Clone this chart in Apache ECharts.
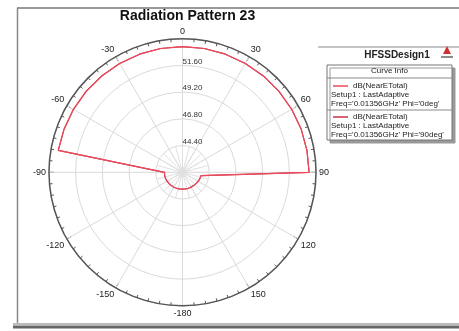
<!DOCTYPE html>
<html>
<head>
<meta charset="utf-8">
<script src="https://cdn.jsdelivr.net/npm/echarts@6/dist/echarts.min.js"></script>
<style>
html,body{margin:0;padding:0;background:#fff;}
#chart{width:459px;height:331px;}
</style>
</head>
<body>
<div id="chart"></div>
<script>
// ---- data ----
const thetaDeg = [-180,-170,-160,-150,-140,-130,-120,-110,-100,-90,-80,-70,-60,-50,-40,-30,-20,-10,0,10,20,30,40,50,60,70,80,90,100,110,120,130,140,150,160,170,180];
const phi0dB = [43.52,43.52,43.53,43.55,43.56,43.58,43.6,43.62,43.63,43.62,53.34,53.33,53.32,53.31,53.3,53.3,53.3,53.3,53.3,53.3,53.3,53.3,53.31,53.32,53.33,53.35,53.36,53.38,43.7,43.66,43.62,43.58,43.56,43.54,43.53,43.52,43.52];
const phi90dB = [43.52,43.52,43.53,43.55,43.56,43.58,43.6,43.62,43.63,43.62,53.34,53.33,53.32,53.31,53.3,53.3,53.3,53.3,53.3,53.3,53.3,53.3,53.31,53.32,53.33,53.35,53.36,53.38,43.7,43.66,43.62,43.58,43.56,43.54,43.53,43.52,43.52];
const seriesNames = ["dB(NearETotal) Phi='0deg'", "dB(NearETotal) Phi='90deg'"];
const rMinDB = 42.0, rMaxDB = 54.0, rStepDB = 2.4;
const titleText = 'Radiation Pattern 23';
const designName = 'HFSSDesign1';
const legendHeader = 'Curve Info';
const legendLines = [
  ['dB(NearETotal)', 'Setup1 : LastAdaptive', "Freq='0.01356GHz' Phi='0deg'"],
  ['dB(NearETotal)', 'Setup1 : LastAdaptive', "Freq='0.01356GHz' Phi='90deg'"]
];
const colors = ['#ec4a5a', '#c8304a'];

// ---- layout ----
const CX = 182.5, CY = 172.3, R = 133.5;
const FONT = 'Liberation Sans, Arial, sans-serif';

function toPts(vals){
  return vals.map((v,i)=>{
    const t = thetaDeg[i];
    return [v - rMinDB, t < 0 ? t + 360 : t];
  });
}
function angLabel(v){
  if (v === 180) return '-180';
  if (v > 180) return String(v - 360);
  return String(v);
}

const chart = echarts.init(document.getElementById('chart'), null, {renderer:'canvas'});

const LX = 327, LY = 65, LW = 125, LH = 75;
const txt = (x,y,t,extra)=>Object.assign({type:'text', x:x, y:y, style:Object.assign({text:t, fontSize:8, fontFamily:FONT, fill:'#222', textVerticalAlign:'middle'}, extra||{})});
const ln = (x1,y1,x2,y2,stroke,w)=>({type:'line', shape:{x1:x1,y1:y1,x2:x2,y2:y2}, style:{stroke:stroke, lineWidth:w}});

const graphics = [
  ln(17,8,459,8,'#999',2),
  ln(17.5,8,17.5,324,'#888',1.5),
  ln(13,324,459,324,'#bbb',2),
  ln(13,327,459,327,'#666',3),
  ln(318,47,459,47,'#c4c4c4',2),
  txt(397,55,designName,{fontSize:10, fontWeight:'bold', textAlign:'center'}),
  {type:'polygon', shape:{points:[[443,54],[447,46],[451,54]]}, style:{fill:'#d03030'}},
  ln(441,57,453,57,'#666',1.5),
  {type:'rect', shape:{x:LX, y:LY, width:LW, height:LH}, style:{fill:'#fff', stroke:'#777', lineWidth:1, shadowColor:'#999', shadowOffsetX:3, shadowOffsetY:3, shadowBlur:0}},
  txt(LX+LW/2,71,legendHeader,{textAlign:'center'}),
  ln(LX,78,LX+LW,78,'#888',1),
  ln(333,86,348,86,colors[0],1.5),
  txt(353,86,legendLines[0][0]),
  txt(331,95,legendLines[0][1]),
  txt(331,104,legendLines[0][2]),
  ln(LX,110,LX+LW,110,'#888',1),
  ln(333,117,348,117,colors[1],1.5),
  txt(353,117,legendLines[1][0]),
  txt(331,125.5,legendLines[1][1]),
  txt(331,134.5,legendLines[1][2])
];

const option = {
  backgroundColor:'#fff',
  animation:false,
  title:{text:titleText, left:CX, top:4, textAlign:'center',
    textStyle:{fontSize:14, fontWeight:'bold', fontFamily:FONT, color:'#111'}},
  polar:[
    {center:[CX,CY], radius:R},
    {center:[CX,CY], radius:R*rStepDB/(rMaxDB-rMinDB)}
  ],
  angleAxis:[
    {polarIndex:0, type:'value', min:0, max:360, interval:30, startAngle:90, clockwise:true,
      axisLine:{show:true, lineStyle:{color:'#555', width:1.5}},
      axisTick:{show:true, inside:true, length:5, lineStyle:{color:'#444', width:1}},
      minorTick:{show:true, splitNumber:6, length:3, lineStyle:{color:'#555', width:1}},
      axisLabel:{show:true, margin:3, fontSize:9, fontFamily:FONT, color:'#222', formatter:angLabel},
      splitLine:{show:true, lineStyle:{color:'#dadada', width:1}}
    },
    {polarIndex:1, type:'value', min:0, max:360, interval:15, startAngle:90, clockwise:true,
      axisLine:{show:false}, axisTick:{show:false}, axisLabel:{show:false},
      splitLine:{show:true, lineStyle:{color:'#e0e0e0', width:1}}
    }
  ],
  radiusAxis:[
    {polarIndex:0, type:'value', min:0, max:rMaxDB-rMinDB, interval:rStepDB,
      axisLine:{show:false}, axisTick:{show:false},
      axisLabel:{show:true, margin:0, align:'left', verticalAlign:'bottom', fontSize:8, fontFamily:FONT, color:'#333',
        showMinLabel:false, showMaxLabel:false,
        formatter:function(v){ if (v<=0.001 || v>=rMaxDB-rMinDB-0.001) return ''; return (v+rMinDB).toFixed(2);} },
      splitLine:{show:true, lineStyle:{color:'#dadada', width:1}}
    },
    {polarIndex:1, type:'value', min:0, max:1,
      axisLine:{show:false}, axisTick:{show:false}, axisLabel:{show:false}, splitLine:{show:false}
    }
  ],
  series:[
    {name:seriesNames[1], type:'line', coordinateSystem:'polar', polarIndex:0, data:toPts(phi90dB),
      showSymbol:false, symbol:'none', lineStyle:{color:colors[1], width:1.2}, z:3},
    {name:seriesNames[0], type:'line', coordinateSystem:'polar', polarIndex:0, data:toPts(phi0dB),
      showSymbol:false, symbol:'none', lineStyle:{color:colors[0], width:1.2}, z:4}
  ],
  graphic:graphics
};
chart.setOption(option);
</script>
</body>
</html>
